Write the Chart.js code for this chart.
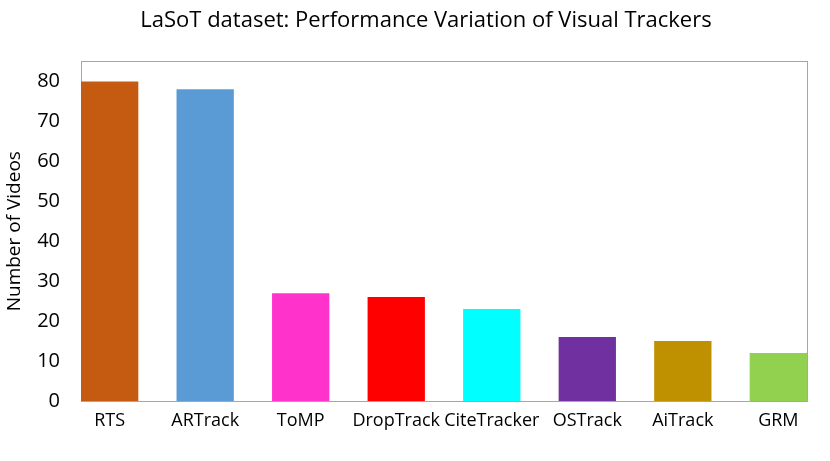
<!DOCTYPE html>
<html>
<head>
<meta charset="utf-8">
<script src="https://cdn.jsdelivr.net/npm/chart.js@4"></script>
<style>
  html, body { margin: 0; padding: 0; background: #fff; }
  #wrap { width: 830px; height: 461px; }
</style>
</head>
<body>
<div id="wrap"><canvas id="c" width="830" height="461"></canvas></div>
<script>
const trackers = ['RTS', 'ARTrack', 'ToMP', 'DropTrack', 'CiteTracker', 'OSTrack', 'AiTrack', 'GRM'];
const videoCounts = [80, 78, 27, 26, 23, 16, 15, 12];
const barColors = ['#c55a11', '#5b9bd5', '#ff33cc', '#ff0000', '#00ffff', '#7030a0', '#bf9000', '#92d050'];
const yTicks = [0, 10, 20, 30, 40, 50, 60, 70, 80];

const font = '"Open Sans", Lato, sans-serif';

// plot frame, drawn under the bars
const frame = {
  id: 'frame',
  beforeDatasetsDraw(chart) {
    const a = chart.chartArea, ctx = chart.ctx;
    ctx.save();
    ctx.strokeStyle = '#a6a6a6';
    ctx.lineWidth = 1;
    ctx.strokeRect(Math.round(a.left) + 0.5, Math.round(a.top) + 0.5,
      Math.round(a.right - a.left), Math.round(a.bottom - a.top));
    ctx.restore();
  }
};

new Chart(document.getElementById('c'), {
  type: 'bar',
  data: {
    datasets: [{
      data: videoCounts.map((v, i) => ({ x: i, y: v })),
      backgroundColor: barColors,
      borderWidth: 0,
      categoryPercentage: 1,
      barPercentage: 0.6
    }]
  },
  options: {
    responsive: false,
    animation: false,
    layout: { padding: { left: 22, right: 0, top: 0, bottom: 0 } },
    plugins: {
      legend: { display: false },
      tooltip: { enabled: false },
      title: {
        display: true,
        text: 'LaSoT dataset: Performance Variation of Visual Trackers',
        color: '#000',
        font: { family: font, size: 22, weight: 'normal' },
        padding: { top: 8, bottom: 27 }
      }
    },
    scales: {
      x: {
        type: 'linear',
        offset: false,
        min: -0.3,
        max: 7.3,
        grid: { display: false, drawTicks: false },
        border: { display: false },
        ticks: {
          stepSize: 1,
          includeBounds: false,
          autoSkip: false,
          maxRotation: 0,
          padding: 9,
          color: '#000',
          font: { family: font, size: 18 },
          callback: (v) => trackers[v] ?? ''
        },
        afterFit: (s) => { s.height = 60; }
      },
      y: {
        min: 0,
        max: 85,
        grid: { display: false, drawTicks: false },
        border: { display: false },
        afterBuildTicks: (s) => { s.ticks = yTicks.map(v => ({ value: v })); },
        ticks: {
          padding: 21,
          color: '#000',
          font: { family: font, size: 20 }
        },
        title: {
          display: true,
          text: 'Number of Videos',
          color: '#000',
          font: { family: font, size: 19 },
          padding: { top: -19, bottom: 0 }
        },
        afterFit: (s) => { s.width = 59; }
      },
      // empty right-hand strip so the plot stops short of the canvas edge
      yRight: {
        position: 'right',
        display: true,
        grid: { display: false, drawTicks: false },
        border: { display: false },
        ticks: { display: false },
        afterFit: (s) => { s.width = 23; }
      }
    }
  },
  plugins: [frame]
});
</script>
</body>
</html>
